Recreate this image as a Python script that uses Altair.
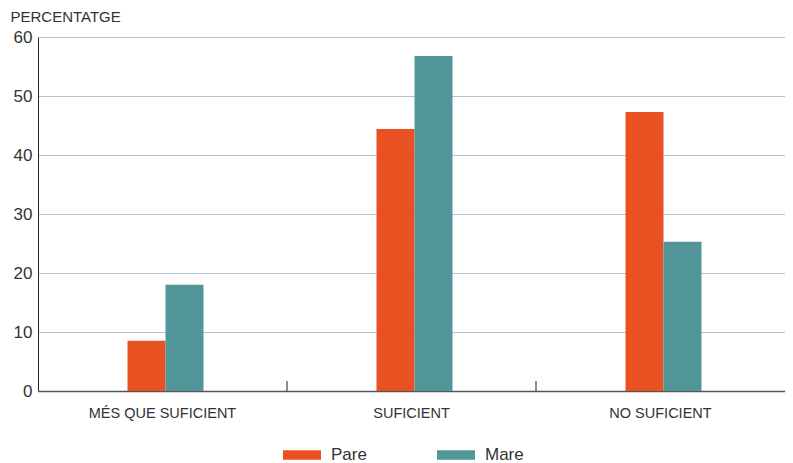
import altair as alt
import pandas as pd

categories = ["MÉS QUE SUFICIENT", "SUFICIENT", "NO SUFICIENT"]
series = ["Pare", "Mare"]
pare = [8.5, 44.4, 47.3]
mare = [18.0, 56.8, 25.3]
colors = ["#E85222", "#52969A"]

rows = []
for i, c in enumerate(categories):
    rows.append({"cat": c, "serie": "Pare", "val": pare[i]})
    rows.append({"cat": c, "serie": "Mare", "val": mare[i]})
df = pd.DataFrame(rows)
ticks_df = pd.DataFrame({"cat": categories[1:]})

W, H = 747, 354
FONT = "Liberation Sans"
band = W / 3.0
barw = 38

xscale = alt.Scale(domain=categories, paddingInner=0, paddingOuter=0)

bars = alt.Chart(df).mark_bar().encode(
    x=alt.X("cat:N", scale=xscale, sort=categories,
            axis=alt.Axis(title=None, labelAngle=0, ticks=False, labelPadding=15,
                          labelFontSize=14.5, labelColor="#333", labelFont=FONT,
                          domainColor="#555", domainWidth=1.5)),
    xOffset=alt.XOffset("serie:N", sort=series,
                        scale=alt.Scale(domain=series, paddingInner=0, paddingOuter=0,
                                        range=[band / 2 - barw + 3, band / 2 + barw + 3])),
    y=alt.Y("val:Q", scale=alt.Scale(domain=[0, 60]),
            axis=alt.Axis(values=[0, 10, 20, 30, 40, 50, 60], title="PERCENTATGE",
                          titleAngle=0, titleAlign="left", titleBaseline="bottom",
                          titleX=-28, titleY=-13, titleFont=FONT, titleFontSize=15,
                          titleFontWeight="normal", titleColor="#333",
                          labelFont=FONT, labelFontSize=17, labelColor="#333",
                          labelPadding=6, ticks=False, domainColor="#222",
                          gridColor="#A9C4D8", gridWidth=1.2)),
    color=alt.Color("serie:N", sort=series,
                    scale=alt.Scale(domain=series, range=colors),
                    legend=alt.Legend(title=None, orient="none", direction="horizontal",
                                      legendX=245, legendY=399,
                                      symbolType="M-1,-0.25L1,-0.25L1,0.25L-1,0.25Z",
                                      symbolSize=1444, symbolStrokeWidth=0,
                                      labelFont=FONT, labelFontSize=17, labelColor="#333",
                                      labelOffset=10, columnPadding=70)),
)

tick_rules = alt.Chart(ticks_df).mark_rule(color="#444", strokeWidth=1.2).encode(
    x=alt.X("cat:N", scale=xscale, sort=categories, bandPosition=0),
    y=alt.value(H - 10),
    y2=alt.value(H),
)

chart = alt.layer(bars, tick_rules).properties(
    width=W, height=H,
    padding={"left": 2, "top": 1, "right": 0, "bottom": 0},
).configure_view(stroke=None).configure_axisY(grid=True).configure_axisX(grid=False)

chart.save("out.html", embed_options={"renderer": "svg", "actions": False})
